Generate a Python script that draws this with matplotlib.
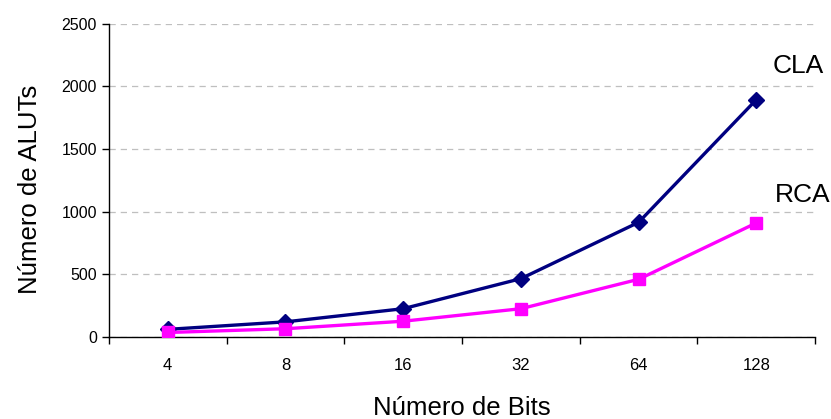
import matplotlib
matplotlib.use("Agg")
import matplotlib.pyplot as plt
import numpy as np

plt.rcParams['font.family'] = ['Liberation Sans', 'DejaVu Sans']

bits = ["4", "8", "16", "32", "64", "128"]
cla = [60, 120, 225, 465, 915, 1895]
rca = [35, 65, 125, 225, 460, 910]
yticks = [0, 500, 1000, 1500, 2000, 2500]

fig = plt.figure(figsize=(8.31, 4.19), dpi=100)
ax = fig.add_axes([0.131, 0.196, 0.85, 0.747])

x = np.arange(len(bits))
ax.plot(x, cla, color='#000080', lw=2.4, marker='D', ms=8, zorder=3)
ax.plot(x, rca, color='#FF00FF', lw=2.4, marker='s', ms=9, zorder=3)

ax.set_xlim(-0.5, len(bits) - 0.5)
ax.set_ylim(0, 2500)
ax.set_yticks(yticks)
ax.yaxis.grid(True, color='#BFBFBF', linestyle=(0, (5, 4)), lw=0.9)
ax.set_axisbelow(True)

# boundary ticks between categories, labels centered on categories
ax.set_xticks(np.arange(-0.5, len(bits) + 0.5, 1.0))
ax.set_xticklabels([])
ax.set_xticks(x, minor=True)
ax.set_xticklabels(bits, minor=True,
                   family=['Liberation Sans Narrow', 'Liberation Sans'])
ax.tick_params(axis='x', which='major', length=5, direction='out', width=1)
ax.tick_params(axis='x', which='minor', length=0, pad=15.5, labelsize=12)
ax.tick_params(axis='y', length=5, direction='out', width=1, labelsize=11.5)

for s in ['top', 'right']:
    ax.spines[s].set_visible(False)
for s in ['left', 'bottom']:
    ax.spines[s].set_color('black')
    ax.spines[s].set_linewidth(1)

ax.set_xlabel('Número de Bits', fontsize=18.5, va='center')
ax.xaxis.set_label_coords(0.5, -0.227)
ax.set_ylabel('Número de ALUTs', fontsize=18.5, va='center')
ax.yaxis.set_label_coords(-0.112, 0.47)

ax.text(5.14, 2165, 'CLA', fontsize=19, ha='left', va='center')
ax.text(5.16, 1134, 'RCA', fontsize=19, ha='left', va='center')

fig.savefig('out.png', dpi=100)
